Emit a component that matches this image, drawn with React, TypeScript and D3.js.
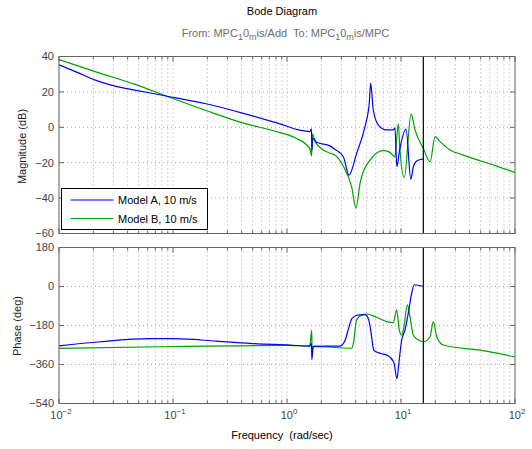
import React from "react";
import * as d3 from "d3";

// ---------- data ----------
const nyquistFreq = 15.7;
const magTicks = [-60, -40, -20, 0, 20, 40];
const phaseTicks = [-540, -360, -180, 0, 180];
const decadeExps = [-2, -1, 0, 1, 2];

const legendLabels = ["Model A, 10 m/s", "Model B, 10 m/s"];

const magFreqA = [0.01, 0.0141, 0.0211, 0.0316, 0.0473, 0.0871, 0.195, 0.407, 0.869, 1.2, 1.585, 1.64, 1.652, 1.683, 1.82, 2.38, 2.63, 3.12, 3.5, 4.08, 4.83, 5.27, 5.42, 5.71, 6.31, 7.48, 8.55, 8.85, 9.2, 9.66, 11.07, 12.2, 12.82, 13.71, 15.7];
const magA = [35.3, 31.3, 26.5, 23.1, 20.9, 17.7, 13.3, 8, 1.9, -1.1, -2.4, -0.9, -13.2, -6.2, -8.5, -10.5, -12.4, -16.6, -27, -14.7, 0.4, 13.7, 25, 9.9, 1.4, -1.5, -1.5, -0.5, -22.3, -14, -1, -29.3, -22.3, -19, -17.8];

const magFreqB = [0.01, 0.0211, 0.0473, 0.0871, 0.195, 0.407, 0.869, 1.2, 1.585, 1.645, 1.67, 1.778, 2.38, 2.63, 3.12, 3.69, 4.03, 4.37, 5.35, 7.0, 7.94, 8.85, 9.46, 9.77, 10.69, 12.25, 13.27, 15.7, 18.0, 19.9, 22.0, 26.9, 35.2, 49.3, 69.0, 100];
const magB = [38.3, 31.3, 24.1, 17.7, 9.5, 2.5, -3, -6.2, -11.9, -16.1, -3.75, -8.5, -14.7, -15.7, -22, -33.7, -45.6, -31.8, -18.5, -13.2, -14, -16.6, 1.9, -12, -28.4, 7.6, -1.5, -11.9, -19.5, -5.3, -8.1, -12.8, -15.7, -18.9, -21.9, -25.5];

const phaseFreqA = [0.01, 0.0229, 0.0631, 0.1, 0.24, 0.473, 1.06, 1.585, 1.64, 1.652, 1.7, 2.92, 3.24, 3.47, 3.72, 4.26, 4.88, 5.21, 5.47, 5.77, 6.61, 7.55, 8.63, 9.23, 9.55, 10.14, 10.84, 11.59, 12.42, 13.09, 15.7];
const phaseA = [-273.6, -255, -241, -241, -252, -262.7, -270.5, -275, -262, -337, -276, -275, -247, -193, -147, -131, -131, -154, -216, -294, -309, -317, -348, -425, -360, -247, -201, -123, -30, 8, 0];

const phaseFreqB = [0.01, 0.1, 1.0, 1.585, 1.645, 1.66, 1.7, 3.69, 3.82, 4.08, 4.52, 5.0, 6.12, 7.48, 8.55, 9.16, 9.66, 10.14, 10.62, 11.35, 12.0, 12.82, 14.19, 15.7, 18.0, 19.2, 20.6, 23.5, 49.3, 100];
const phaseB = [-286, -277, -272, -275, -201, -294, -276, -285, -263, -154, -131, -127, -142, -162, -167, -108, -201, -224, -185, -85, -140, -224, -247, -255, -232, -162, -232, -270, -294, -325];

// ---------- layout ----------
const W = 532, H = 449;
const L = 59, R = 515;
const magTop = 56.5, magBot = 233.5;
const phTop = 247.5, phBot = 403.5;
const FONT = "'Liberation Sans', Arial, Helvetica, sans-serif";
const BLUE = "#0000ff";
const GREEN = "#00a000";
const AXIS = "#666666";
const TXT = "#444444";
const GRID = "#a8a8a8";

const x = d3.scaleLog().domain([0.01, 100]).range([L, R]);
const yMag = d3.scaleLinear().domain([-60, 40]).range([magBot, magTop]);
const yPh = d3.scaleLinear().domain([-540, 180]).range([phBot, phTop]);

const minorFreqs: number[] = [];
for (let e = -2; e < 2; e++) for (let k = 1; k <= 9; k++) minorFreqs.push(k * Math.pow(10, e));
minorFreqs.push(100);

function makePath(fs: number[], vs: number[], y: d3.ScaleLinear<number, number>) {
  const pts = fs.map((f, i) => [f, vs[i]] as [number, number]);
  return d3.line<[number, number]>().x(d => x(d[0])).y(d => y(d[1])).curve(d3.curveMonotoneX)(pts) || "";
}

function Axes({ top, bot, y, ticks, id }: { top: number; bot: number; y: d3.ScaleLinear<number, number>; ticks: number[]; id: string }) {
  return (
    <g>
      <rect x={L} y={top} width={R - L} height={bot - top} fill="white" />
      {/* grid */}
      {minorFreqs.map((f, i) => (
        <line key={"vg" + i} x1={x(f)} x2={x(f)} y1={top} y2={bot} stroke={GRID} strokeWidth={1} strokeDasharray="1,3" />
      ))}
      {ticks.map((t, i) => (
        <line key={"hg" + i} x1={L} x2={R} y1={y(t)} y2={y(t)} stroke={GRID} strokeWidth={1} strokeDasharray="1,3" />
      ))}
      <defs>
        <clipPath id={id}>
          <rect x={L} y={top} width={R - L} height={bot - top} />
        </clipPath>
      </defs>
    </g>
  );
}

function Frame({ top, bot, y, ticks }: { top: number; bot: number; y: d3.ScaleLinear<number, number>; ticks: number[] }) {
  return (
    <g stroke={AXIS} strokeWidth={1} fill="none">
      <rect x={L} y={top} width={R - L} height={bot - top} />
      {minorFreqs.map((f, i) => {
        const major = Math.abs(Math.log10(f) - Math.round(Math.log10(f))) < 1e-9;
        const len = major ? 5 : 3;
        return (
          <g key={"xt" + i}>
            <line x1={x(f)} x2={x(f)} y1={bot} y2={bot - len} />
            <line x1={x(f)} x2={x(f)} y1={top} y2={top + len} />
          </g>
        );
      })}
      {ticks.map((t, i) => (
        <g key={"yt" + i}>
          <line x1={L} x2={L + 5} y1={y(t)} y2={y(t)} />
          <line x1={R} x2={R - 5} y1={y(t)} y2={y(t)} />
        </g>
      ))}
    </g>
  );
}

const fmt = (v: number) => (v < 0 ? "\u2212" + Math.abs(v) : String(v));

export default function App() {
  return (
    <svg width={W} height={H} style={{ position: "absolute", left: 0, top: 0, background: "white" }} fontFamily={FONT}>
      <rect width={W} height={H} fill="white" />
      {/* titles */}
      <text x={282} y={15} textAnchor="middle" fontSize={11} fill="#000">Bode Diagram</text>
      <text x={285.5} y={37} textAnchor="middle" fontSize={11} fill="#6e6e6e" style={{ whiteSpace: "pre" }}>
        From: MPC<tspan dy={3} fontSize={9}>1</tspan><tspan dy={-3}>0</tspan><tspan dy={3} fontSize={9}>m</tspan><tspan dy={-3}>is/Add  To: MPC</tspan><tspan dy={3} fontSize={9}>1</tspan><tspan dy={-3}>0</tspan><tspan dy={3} fontSize={9}>m</tspan><tspan dy={-3}>is/MPC</tspan>
      </text>

      {/* magnitude */}
      <Axes top={magTop} bot={magBot} y={yMag} ticks={magTicks} id="clipMag" />
      <g clipPath="url(#clipMag)" fill="none" strokeWidth={1.2} strokeLinejoin="round">
        <path d={makePath(magFreqB, magB, yMag)} stroke={GREEN} />
        <path d={makePath(magFreqA, magA, yMag)} stroke={BLUE} />
      </g>
      <line x1={x(nyquistFreq)} x2={x(nyquistFreq)} y1={magTop} y2={magBot} stroke="#000" strokeWidth={1.2} />
      <Frame top={magTop} bot={magBot} y={yMag} ticks={magTicks} />
      {magTicks.map((t, i) => (
        <text key={"ml" + i} x={54} y={yMag(t)} dy="0.35em" textAnchor="end" fontSize={11} fill={TXT}>{fmt(t)}</text>
      ))}
      <text transform={`translate(26,146.5) rotate(-90)`} textAnchor="middle" fontSize={11} fill="#222">Magnitude (dB)</text>

      {/* legend */}
      <rect x={61.5} y={188.5} width={146} height={41} fill="white" stroke="#000" strokeWidth={1} />
      <line x1={70.5} x2={113.5} y1={200} y2={200} stroke={BLUE} strokeWidth={1.2} />
      <line x1={70.5} x2={113.5} y1={218.5} y2={218.5} stroke={GREEN} strokeWidth={1.2} />
      <text x={118} y={204} fontSize={11} fill="#000">{legendLabels[0]}</text>
      <text x={118} y={222.5} fontSize={11} fill="#000">{legendLabels[1]}</text>

      {/* phase */}
      <Axes top={phTop} bot={phBot} y={yPh} ticks={phaseTicks} id="clipPh" />
      <g clipPath="url(#clipPh)" fill="none" strokeWidth={1.2} strokeLinejoin="round">
        <path d={makePath(phaseFreqB, phaseB, yPh)} stroke={GREEN} />
        <path d={makePath(phaseFreqA, phaseA, yPh)} stroke={BLUE} />
      </g>
      <line x1={x(nyquistFreq)} x2={x(nyquistFreq)} y1={phTop} y2={phBot} stroke="#000" strokeWidth={1.2} />
      <Frame top={phTop} bot={phBot} y={yPh} ticks={phaseTicks} />
      {phaseTicks.map((t, i) => (
        <text key={"pl" + i} x={54} y={yPh(t)} dy="0.35em" textAnchor="end" fontSize={11} fill={TXT}>{fmt(t)}</text>
      ))}
      <text transform={`translate(21,326) rotate(-90)`} textAnchor="middle" fontSize={11} fill="#222">Phase (deg)</text>

      {/* x tick labels */}
      {decadeExps.map((e, i) => (
        <text key={"xl" + i} x={x(Math.pow(10, e)) + 2} y={418.5} textAnchor="middle" fontSize={11} fill={TXT}>
          10<tspan dy={-5} fontSize={8}>{e < 0 ? "\u2212" + Math.abs(e) : String(e)}</tspan>
        </text>
      ))}
      <text x={282} y={439} textAnchor="middle" fontSize={11} fill="#000" style={{ whiteSpace: "pre" }}>Frequency  (rad/sec)</text>
    </svg>
  );
}
